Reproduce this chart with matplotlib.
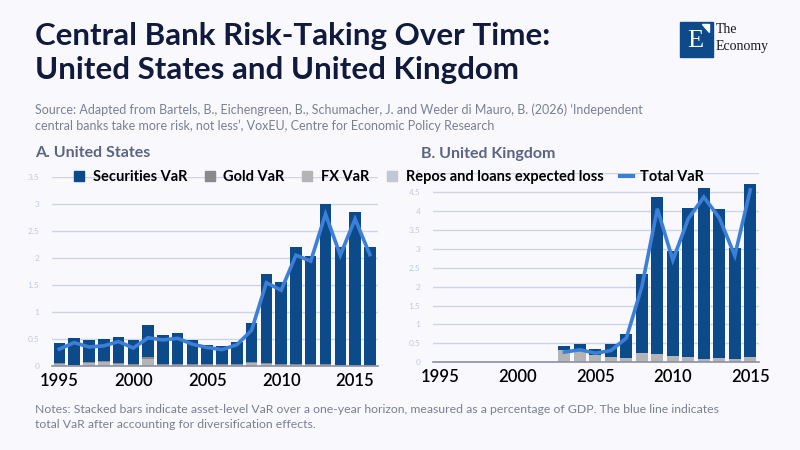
"""Central bank risk-taking: stacked asset VaR bars plus total VaR line, US and UK."""
import matplotlib; matplotlib.use("Agg")
import matplotlib.pyplot as plt
from matplotlib.patches import Rectangle, Polygon
from matplotlib.lines import Line2D

plt.rcParams["font.family"] = ["Lato", "DejaVu Sans"]

# --- data (percent of GDP) ---
us_years = list(range(1995, 2017))
us_total_bar = [0.43, 0.52, 0.47, 0.50, 0.54, 0.47, 0.75, 0.58, 0.60, 0.48, 0.39,
                0.36, 0.45, 0.80, 1.71, 1.56, 2.21, 2.04, 3.00, 2.21, 2.84, 2.21]
us_gold = [0.015, 0.01, 0.02, 0.01, 0.02, 0.015, 0.03, 0.015, 0.015, 0.015, 0.015,
           0.015, 0.015, 0.02, 0.015, 0.015, 0.015, 0.015, 0.015, 0.01, 0.005, 0.005]
us_fx = [0.035, 0.01, 0.055, 0.08, 0.04, 0.025, 0.13, 0.025, 0.025, 0.025, 0.025,
         0.025, 0.025, 0.05, 0.04, 0.025, 0.025, 0.025, 0.025, 0.01, 0.005, 0.005]
us_repos = [0.0] * 22
us_total_var = [0.31, 0.43, 0.35, 0.37, 0.45, 0.33, 0.52, 0.48, 0.51, 0.40, 0.34,
                0.30, 0.39, 0.66, 1.54, 1.40, 2.05, 1.94, 2.81, 2.05, 2.72, 2.06]

uk_years = list(range(2003, 2016))
uk_total_bar = [0.43, 0.47, 0.35, 0.47, 0.76, 2.34, 4.37, 2.93, 4.08, 4.61, 4.06, 3.01, 4.72]
uk_gold = [0.0] * 13
uk_fx = [0.33, 0.29, 0.19, 0.14, 0.11, 0.25, 0.22, 0.17, 0.14, 0.09, 0.11, 0.09, 0.14]
uk_repos = [0.0] * 13
uk_total_var = [0.27, 0.33, 0.24, 0.31, 0.64, 2.00, 4.06, 2.70, 3.80, 4.37, 3.82, 2.82, 4.56]

labels = ["Securities VaR", "Gold VaR", "FX VaR", "Repos and loans expected loss", "Total VaR"]
C_SEC, C_GOLD, C_FX, C_REPO, C_LINE = "#0c4a8a", "#8a8a8a", "#b4b4b4", "#c3c7d4", "#3b7fd9"
BG = "#f8f8fd"
GRID = "#cdd5e6"


def panel(ax, years, total, gold, fx, repos, tvar, ymax, xlim):
    sec = [t - g - f - r for t, g, f, r in zip(total, gold, fx, repos)]
    b0 = repos
    b1 = [a + b for a, b in zip(b0, fx)]
    b2 = [a + b for a, b in zip(b1, gold)]
    w = 0.78
    ax.bar(years, repos, w, color=C_REPO, zorder=2)
    ax.bar(years, fx, w, bottom=b0, color=C_FX, zorder=2)
    ax.bar(years, gold, w, bottom=b1, color=C_GOLD, zorder=2)
    ax.bar(years, sec, w, bottom=b2, color=C_SEC, zorder=2)
    ax.plot(years, tvar, color=C_LINE, lw=2.6, zorder=3, solid_joinstyle="miter")
    ax.set_facecolor(BG)
    ax.set_xlim(*xlim)
    ax.set_ylim(0, ymax)
    ticks = [i * 0.5 for i in range(int(ymax / 0.5) + 1)]
    ax.set_yticks(ticks)
    ax.set_yticklabels([f"{t:g}" for t in ticks])
    ax.set_xticks(range(1995, 2016, 5))
    ax.grid(axis="y", color=GRID, lw=1, zorder=0)
    for s in ["top", "right", "left"]:
        ax.spines[s].set_visible(False)
    ax.spines["bottom"].set_color("#8a90a6")
    ax.spines["bottom"].set_linewidth(1.2)
    ax.spines["bottom"].set_zorder(4)
    ax.tick_params(axis="y", length=0, labelsize=6, labelcolor="#c3cbdc", pad=9)
    ax.tick_params(axis="x", length=0, labelsize=12, pad=5)
    for t in ax.get_xticklabels():
        t.set_fontweight("semibold")


fig = plt.figure(figsize=(8, 4.5), dpi=100, facecolor=BG)
ax1 = fig.add_axes([0.065, 0.187, 0.4075, 0.42])
ax2 = fig.add_axes([0.541, 0.195, 0.4075, 0.42])
panel(ax1, us_years, us_total_bar, us_gold, us_fx, us_repos, us_total_var, 3.5, (1994.5, 2016.55))
panel(ax2, uk_years, uk_total_bar, uk_gold, uk_fx, uk_repos, uk_total_var, 5.0, (1994.5, 2015.55))

fig.text(0.044, 0.883, "Central Bank Risk-Taking Over Time:\nUnited States and United Kingdom",
         fontsize=22.5, fontweight="bold", color="#101a3c", va="center", linespacing=1.25)
fig.text(0.044, 0.738, "Source: Adapted from Bartels, B., Eichengreen, B., Schumacher, J. and Weder di Mauro, B. (2026) "
         "\u2018Independent\ncentral banks take more risk, not less\u2019, VoxEU, Centre for Economic Policy Research",
         fontsize=9, color="#7a8092", va="center", linespacing=1.4)
fig.text(0.044, 0.66, "A. United States", fontsize=11.5, fontweight="bold", color="#5a6584", va="center")
fig.text(0.526, 0.658, "B. United Kingdom", fontsize=11.5, fontweight="bold", color="#5a6584", va="center")
fig.text(0.044, 0.073, "Notes: Stacked bars indicate asset-level VaR over a one-year horizon, measured as a percentage "
         "of GDP. The blue line indicates\ntotal VaR after accounting for diversification effects.",
         fontsize=8.8, color="#7a8092", va="center", linespacing=1.4)

# legend across both panels
handles = [Line2D([], [], marker="s", ls="", color=c, ms=7) for c in (C_SEC, C_GOLD, C_FX, C_REPO)]
handles.append(Line2D([], [], color=C_LINE, lw=3))
fig.legend(handles, labels, loc="center", bbox_to_anchor=(0.485, 0.607), ncol=5, frameon=False,
           prop={"size": 10.5, "weight": "bold"}, handlelength=0.9, handletextpad=0.5,
           columnspacing=1.1)

# logo
fig.patches.append(Rectangle((0.85, 0.873), 0.041, 0.078, transform=fig.transFigure,
                             color="#0c4a8a", zorder=5))
fig.patches.append(Polygon([(0.878, 0.946), (0.886, 0.946), (0.886, 0.930)], closed=True,
                           transform=fig.transFigure, color="white", zorder=6))
fig.text(0.8695, 0.908, "E", fontsize=19, color="white", family=["Liberation Serif"],
         ha="center", va="center", zorder=6)
fig.text(0.895, 0.934, "The", fontsize=10, color="#1a1a1a", family=["Liberation Serif"], va="center")
fig.text(0.895, 0.896, "Economy", fontsize=10, color="#1a1a1a", family=["Liberation Serif"], va="center")

fig.savefig("out.png", dpi=100, facecolor=BG)
